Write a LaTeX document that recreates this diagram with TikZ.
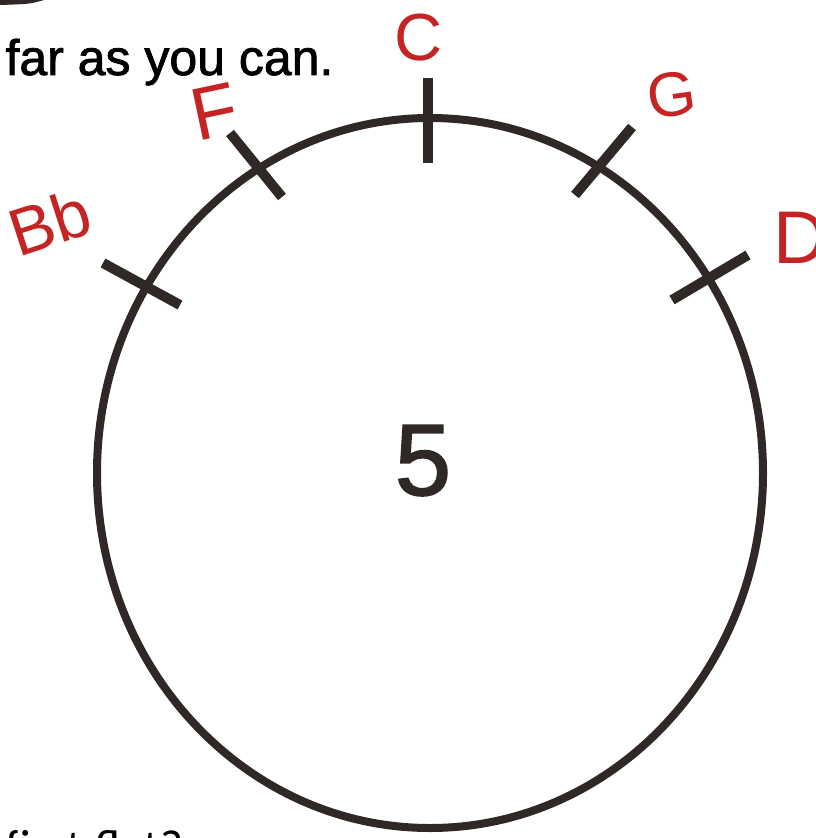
\documentclass[tikz,border=0pt]{standalone}
\usepackage{fontspec}
\setmainfont{Liberation Sans}
\newfontfamily\sheetfont{Carlito}
\newfontfamily\printfont[FakeBold=1.6]{Liberation Sans}
\usetikzlibrary{positioning,calc}
\definecolor{ink}{RGB}{48,40,38}
\definecolor{penred}{RGB}{196,36,36}
\tikzset{every picture/.style={line width=0.75pt}}
\tikzset{
    fifthtick/.style={draw=ink, line width=7.5pt, line cap=butt},
    notename/.style={text=penred, inner sep=0pt},
}

\begin{document}
\begin{tikzpicture}[x=0.75pt,y=-0.75pt]
    \useasboundingbox (0,0) rectangle (815,838);
    \clip (0,0) rectangle (815,838);
    \fill[ink] (0,0) -- (44,0) .. controls (30,4) .. (0,5) -- cycle;
    \node[anchor=base west, inner sep=0pt, font=\printfont\fontsize{37.5}{40}\selectfont] (prompt) at (5,75) {far as you can.};
    \draw[ink, line width=6pt] (430,473) ellipse [x radius=333, y radius=355];
    \node[anchor=base, inner sep=0pt, text=ink, font=\printfont\fontsize{76}{76}\selectfont] (five) at (423,495) {5};
    % ticks on the circle
    \foreach \n/\p/\q in {C/{428,78}/{428,163}, G/{632,127}/{575,195}, D/{748,255}/{672,300},
                          F/{230,133}/{282,197}, Bb/{103,263}/{180,305}}{
        \coordinate (\n-out) at (\p);
        \coordinate (\n-in) at (\q);
        \draw[fifthtick] (\n-out) -- (\n-in);
    }
    % key names
    \node[notename, font=\fontsize{50}{50}\selectfont] (C) at (419,38) {C};
    \node[notename, rotate=8, font=\fontsize{47}{47}\selectfont] (G) at (672,95) {G};
    \node[notename, font=\fontsize{56}{56}\selectfont] (D) at (800,238) {D};
    \node[notename, rotate=12, font=\fontsize{56}{56}\selectfont] (F) at (214,112) {F};
    \node[notename, rotate=18, font=\fontsize{50}{50}\selectfont] (Bb) at (50,222) {Bb};
    \node[anchor=base west, inner sep=0pt, font=\sheetfont\fontsize{37}{40}\selectfont] (question) at (5,864) {first flat?};
\end{tikzpicture}
\end{document}
